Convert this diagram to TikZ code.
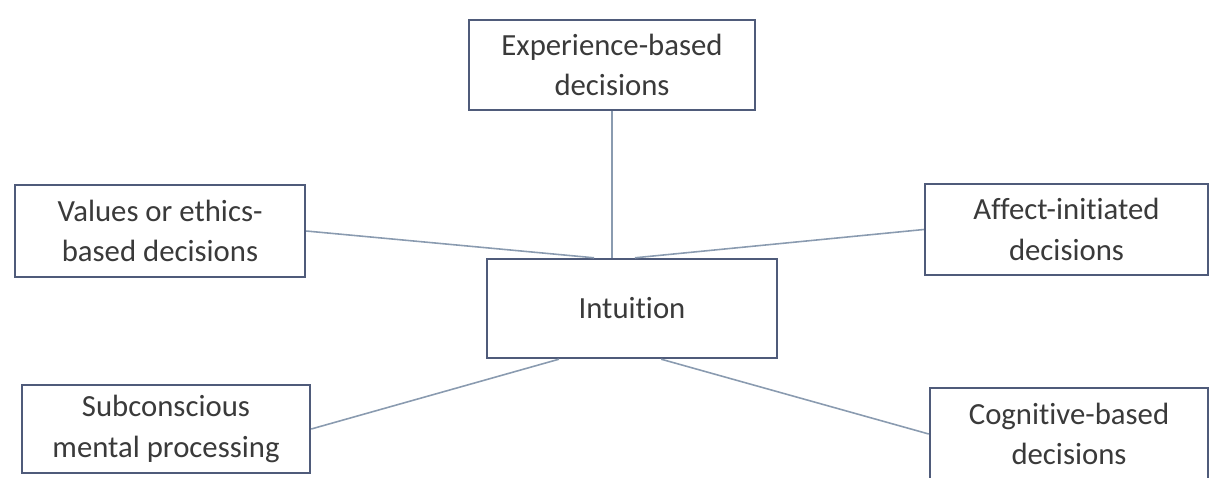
\documentclass[tikz,border=0pt]{standalone}
\usepackage{fontspec}
\setmainfont[Ligatures=NoCommon]{Carlito}
\usepackage{xcolor}
\usetikzlibrary{positioning, calc}
\definecolor{boxline}{HTML}{4F5B7A}
\definecolor{linkline}{HTML}{8A9BB0}
\definecolor{txtgray}{HTML}{3A3A3A}

\begin{document}
\begin{tikzpicture}[x=0.02cm,y=-0.02cm,
    idea/.style={draw=boxline, line width=1.4pt, fill=white, text=txtgray, align=center,
      font=\fontsize{17.5}{23}\selectfont, inner sep=0pt},
    link/.style={draw=linkline, line width=0.9pt}]
      \useasboundingbox (0,0) rectangle (1209,477);
      \node[idea, minimum width=5.72cm, minimum height=1.8cm] (exp) at (612,65) {Experience-based\\decisions};
      \node[idea, minimum width=5.8cm, minimum height=1.84cm] (val) at (160,231) {Values or ethics-\\based decisions};
      \node[idea, minimum width=5.8cm, minimum height=1.98cm] (intu) at (632,308.5) {Intuition};
      \node[idea, minimum width=5.66cm, minimum height=1.82cm] (aff) at (1066.5,229.5) {Affect-initiated\\decisions};
      \node[idea, minimum width=5.76cm, minimum height=1.76cm] (sub) at (166,429) {Subconscious\\mental processing};
      \node[idea, minimum width=5.56cm, minimum height=1.84cm] (cog) at (1069,434) {Cognitive-based\\decisions};
      \coordinate (nl) at ($(intu.north west)!0.37!(intu.north east)$);
      \coordinate (nr) at ($(intu.north west)!0.51!(intu.north east)$);
      \coordinate (sl) at ($(intu.south west)!0.25!(intu.south east)$);
      \coordinate (sr) at ($(intu.south west)!0.6!(intu.south east)$);
      \draw[link] (exp.south) -- (exp.south |- intu.north);
      \draw[link] (val.east) -- (nl);
      \draw[link] (nr) -- (aff.west);
      \draw[link] (sl) -- (sub.east);
      \draw[link] (sr) -- (cog.west);
\end{tikzpicture}
\end{document}
